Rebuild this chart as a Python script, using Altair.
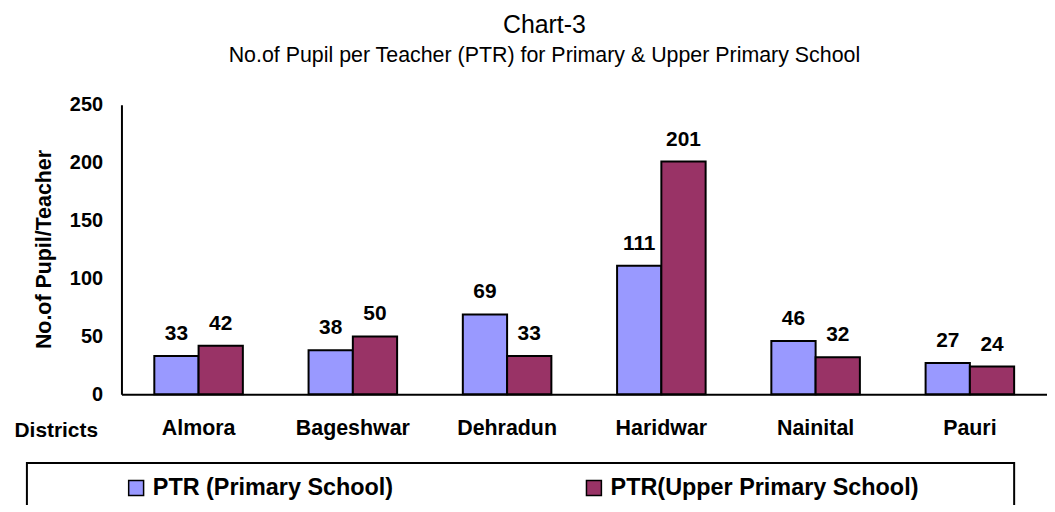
import altair as alt
import pandas as pd

districts = ["Almora", "Bageshwar", "Dehradun", "Haridwar", "Nainital", "Pauri"]
primary = [33, 38, 69, 111, 46, 27]
upper = [42, 50, 33, 201, 32, 24]
series = ["PTR (Primary School)", "PTR(Upper Primary School)"]
colors = ["#9999FF", "#993366"]
y_ticks = [0, 50, 100, 150, 200, 250]

rows = []
for d, p, u in zip(districts, primary, upper):
    rows.append({"District": d, "Series": series[0], "PTR": p})
    rows.append({"District": d, "Series": series[1], "PTR": u})
df = pd.DataFrame(rows)

FONT = "Liberation Sans"

x_enc = alt.X(
    "District:N", sort=districts,
    scale=alt.Scale(paddingInner=0.426, paddingOuter=0.213),
    axis=alt.Axis(
        title="Districts", labelAngle=0, labelFont=FONT, labelFontSize=21.5,
        labelFontWeight="bold", labelColor="black", labelPadding=23,
        ticks=False, domainColor="black", domainWidth=2,
        titleFont=FONT, titleFontSize=21, titleFontWeight="bold", titleColor="black",
        titleX=-66, titleY=36, titleAlign="center", titleBaseline="middle", titleAngle=0,
    ),
)
y_enc = alt.Y(
    "PTR:Q",
    scale=alt.Scale(domain=[0, 250], nice=False),
    axis=alt.Axis(
        title="No.of Pupil/Teacher", values=y_ticks, grid=False, ticks=False,
        domainColor="black", domainWidth=2, labelFont=FONT, labelFontSize=20,
        labelFontWeight="bold", labelColor="black", labelPadding=19,
        titleFont=FONT, titleFontSize=21.5, titleFontWeight="bold", titleColor="black",
        titleX=-77, titleY=145, titleAlign="center", titleBaseline="middle",
    ),
)
xoff = alt.XOffset("Series:N", sort=series, scale=alt.Scale(paddingInner=0, paddingOuter=0))

base = alt.Chart(df)

bars = base.mark_bar(stroke="black", strokeWidth=2).encode(
    x=x_enc, y=y_enc, xOffset=xoff,
    color=alt.Color(
        "Series:N", sort=series,
        scale=alt.Scale(domain=series, range=colors),
        legend=alt.Legend(
            title=None, orient="none", legendX=3, legendY=373,
            direction="horizontal", columns=2, columnPadding=189,
            symbolType="square", symbolSize=225, symbolStrokeColor="black",
            symbolStrokeWidth=1.5, labelFont=FONT, labelFontSize=23.5,
            labelFontWeight="bold", labelColor="black", labelOffset=5,
            labelLimit=500, padding=0,
        ),
    ),
)

labels = base.mark_text(
    font=FONT, fontSize=21, fontWeight="bold", color="black",
    baseline="alphabetic", dy=-16,
).encode(x=x_enc, y=y_enc, xOffset=xoff, text=alt.Text("PTR:Q"))

frame = alt.Chart(alt.Data(values=[{}])).mark_rect(
    filled=False, stroke="black", strokeWidth=2
).encode(
    x=alt.value(-95), x2=alt.value(897), y=alt.value(360), y2=alt.value(440)
)

chart = alt.layer(bars, labels, frame).properties(
    width=930, height=291,
    title=alt.TitleParams(
        text="Chart-3",
        subtitle="No.of Pupil per Teacher (PTR) for Primary & Upper Primary School",
        font=FONT, fontSize=25, fontWeight="normal", color="black",
        subtitleFont=FONT, subtitleFontSize=21.5, subtitleColor="black",
        anchor="middle", dx=-40, offset=28, subtitlePadding=8,
    ),
    autosize="none",
    padding={"left": 114, "top": 96, "right": 0, "bottom": 110},
).configure_view(stroke=None)

chart.save("out.html", embed_options={"renderer": "svg", "actions": False})
